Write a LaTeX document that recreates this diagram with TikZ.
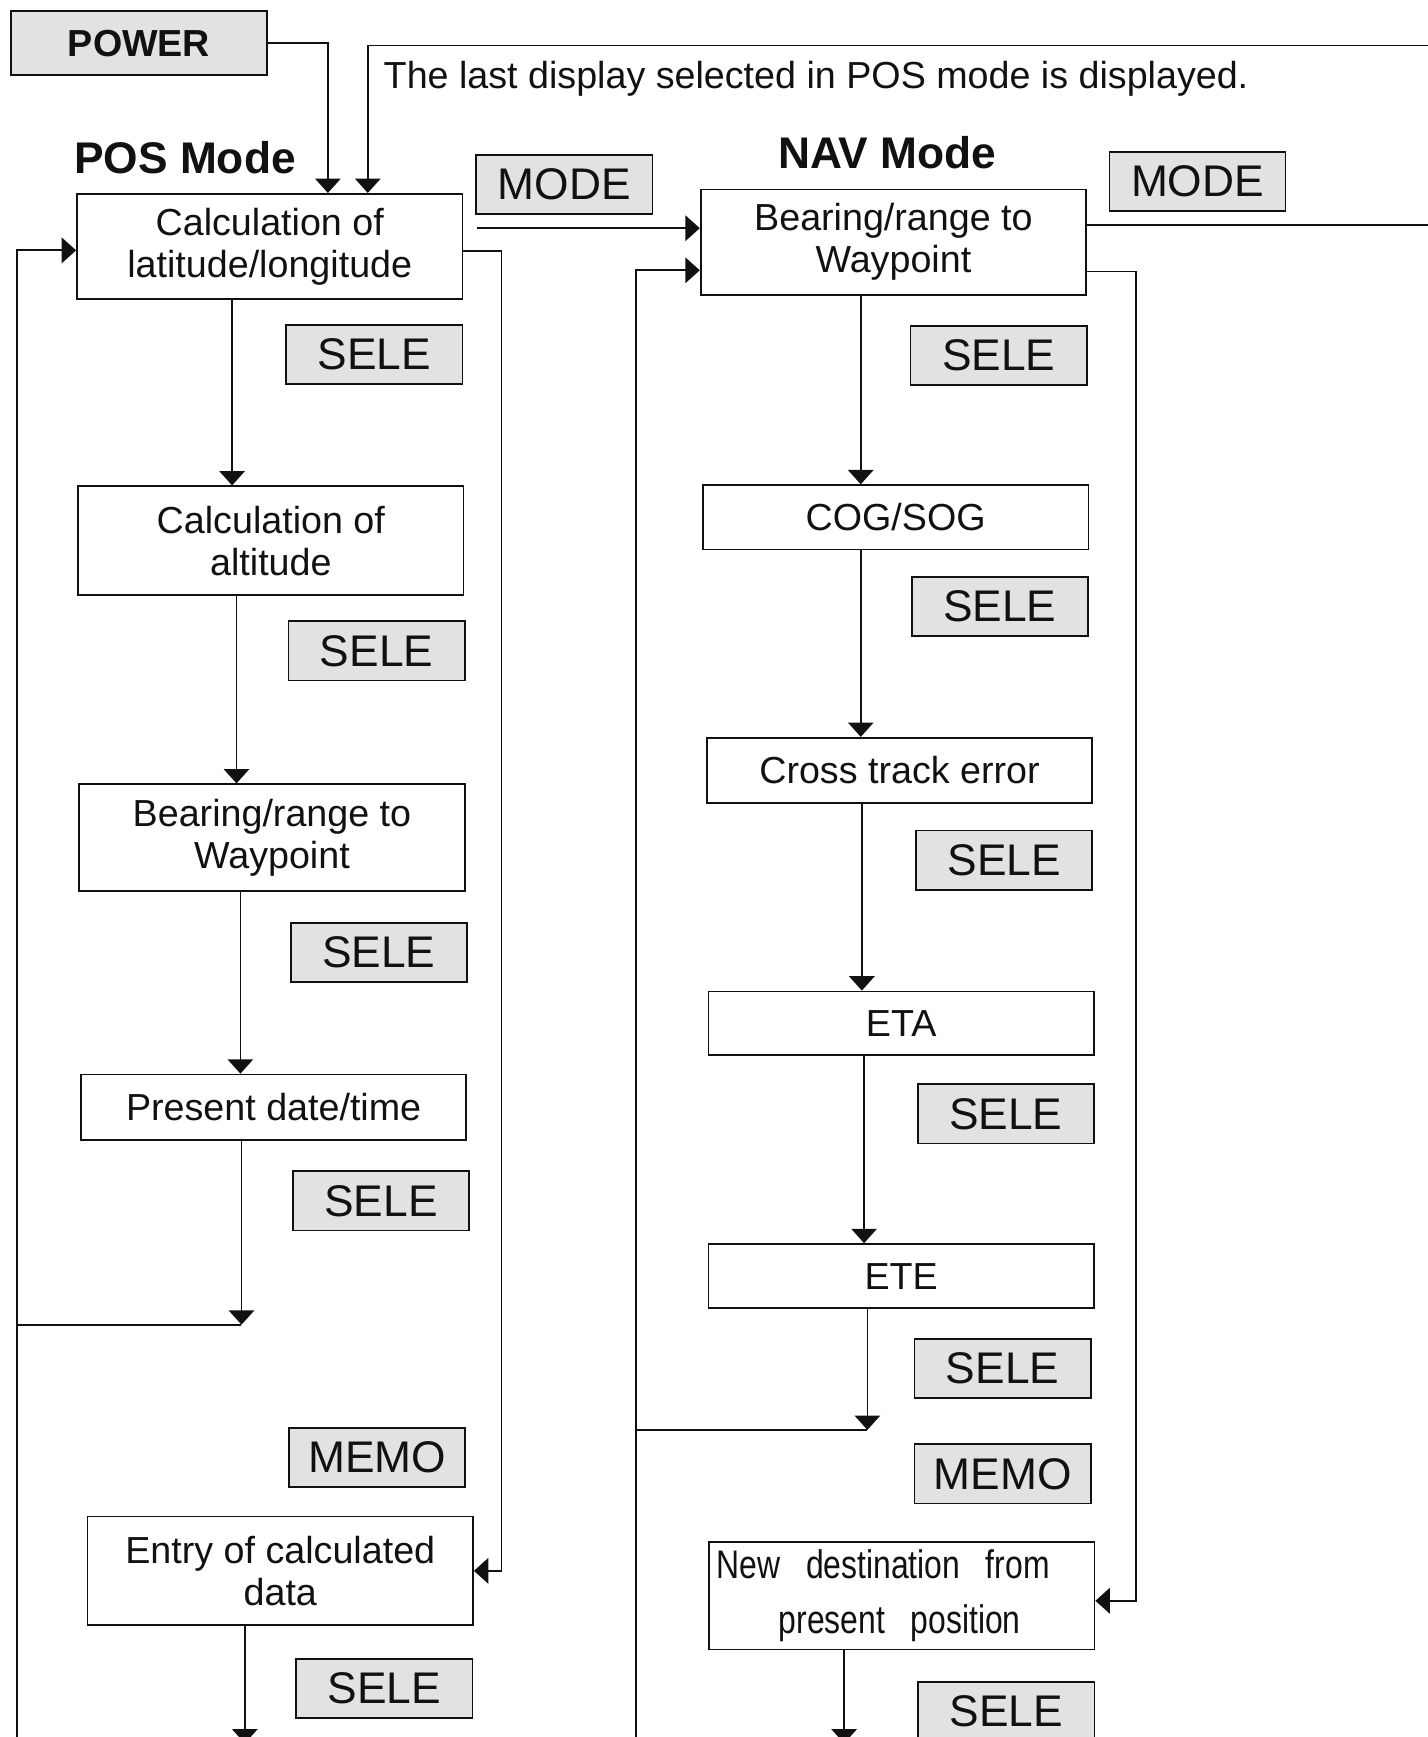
\documentclass[tikz,border=0pt]{standalone}
\usepackage{fontspec}
\setmainfont{Liberation Sans}
\usepackage{xcolor}
\usepackage{tikz}
\usetikzlibrary{arrows.meta}
\definecolor{keygray}{HTML}{E2E2E2}
\definecolor{inkblack}{HTML}{111111}

\begin{document}
\begin{tikzpicture}[
  x=0.5pt,y=-0.5pt,
  every node/.style={inner sep=0pt,text=inkblack},
  base/.style={draw=inkblack,line width=0.8pt,align=center,font=\fontsize{17}{19}\selectfont},
  dispbox/.style={base,minimum width=174pt},
  keybox/.style={base,fill=keygray,minimum width=79.5pt,minimum height=26.75pt,font=\fontsize{20}{22}\selectfont},
  title/.style={font=\bfseries\fontsize{20}{22}\selectfont},
  arr/.style={-{Triangle[width=11.5pt,length=6.5pt]},line width=0.8pt,draw=inkblack},
  wire/.style={line width=0.8pt,draw=inkblack}
]
\useasboundingbox (0,0) rectangle (1289,1568);
\clip (0,0) rectangle (1289,1568);

\node[keybox,minimum width=115.5pt,minimum height=29pt,font=\bfseries\fontsize{17}{19}\selectfont] (power) at (125.5,39) {POWER};
\node[anchor=west,font=\fontsize{17}{19}\selectfont] (note) at (346,71) {The last display selected in POS mode is displayed.};
\node[title] (posmode) at (167,142) {POS Mode};
\node[title] (navmode) at (801,138) {NAV Mode};

% POS mode displays
\node[dispbox,minimum height=47.5pt] (calclat) at (243.5,222.5) {Calculation of\\latitude/longitude};
\node[dispbox,minimum height=49pt] (calcalt) at (244.5,488) {Calculation of\\altitude};
\node[dispbox,minimum height=48pt] (posbear) at (245.5,756) {Bearing/range to\\Waypoint};
\node[dispbox,minimum height=29.5pt] (datetime) at (247,999.5) {Present date/time};
\node[dispbox,minimum height=49pt] (entry) at (253,1418) {Entry of calculated\\data};

% NAV mode displays
\node[dispbox,minimum height=47.5pt] (navbear) at (806.5,218.5) {Bearing/range to\\Waypoint};
\node[dispbox,minimum height=29pt] (cogsog) at (808.5,467) {COG/SOG};
\node[dispbox,minimum height=29.5pt] (xte) at (812,695.5) {Cross track error};
\node[dispbox,minimum height=28.5pt] (eta) at (813.5,923.5) {ETA};
\node[dispbox,minimum height=29pt] (ete) at (813.5,1152) {ETE};
\node[dispbox,minimum height=48.5pt,align=left,text width=167pt,inner xsep=3pt,font=\fontsize{18}{25}\selectfont] (newdest) at (814,1440.5)
  {\scalebox{0.8}[1]{New\hspace{0.8em}destination\hspace{0.8em}from}\\\hspace*{28pt}\scalebox{0.8}[1]{present\hspace{0.8em}position}};

% keys
\node[keybox] (modepos) at (509.5,166.5) {MODE};
\node[keybox] (modenav) at (1081,164) {MODE};
\node[keybox] (selea) at (338,320) {SELE};
\node[keybox] (seleb) at (340,587.5) {SELE};
\node[keybox] (selec) at (342,860) {SELE};
\node[keybox] (seled) at (344,1084) {SELE};
\node[keybox] (memopos) at (340.5,1315.5) {MEMO};
\node[keybox] (selee) at (347,1524) {SELE};
\node[keybox] (selef) at (901.5,321) {SELE};
\node[keybox] (seleg) at (902.5,547.5) {SELE};
\node[keybox] (seleh) at (906.5,776.5) {SELE};
\node[keybox] (selei) at (908,1005.5) {SELE};
\node[keybox] (selej) at (905,1235.5) {SELE};
\node[keybox] (memonav) at (905,1330.5) {MEMO};
\node[keybox] (selek) at (908.5,1545) {SELE};

% power on and return from NAV
\coordinate (navback) at (1289,41);
\draw[arr] (power.east) -| ([xshift=26.25pt]calclat.north);
\draw[arr] (navback) -| ([xshift=44.25pt]calclat.north);
\coordinate (navin) at ([yshift=6.25pt]navbear.west);
\coordinate (posout) at (calclat.east |- navin);
\draw[arr] ([xshift=6pt]posout) -- (navin);

% POS loop
\draw[arr] ([xshift=-17pt]calclat.south) -- ([xshift=-17pt]calclat.south |- calcalt.north);
\draw[arr] ([xshift=-15.5pt]calcalt.south) -- ([xshift=-15.5pt]calcalt.south |- posbear.north);
\draw[arr] ([xshift=-14.25pt]posbear.south) -- ([xshift=-14.25pt]posbear.south |- datetime.north);
\coordinate (posjoin) at ([xshift=-14.5pt,yshift=-83pt]datetime.south);
\draw[arr] ([xshift=-14.5pt]datetime.south) -- (posjoin);
\coordinate (posrail) at (15,1590);
\draw[wire] (posjoin) -- (posjoin -| posrail);
\draw[arr] (posrail) |- ([yshift=-1.75pt]calclat.west);
\draw[arr] ([yshift=-2pt]calclat.east) -| ([xshift=12.5pt]entry.east) -- (entry.east);
\coordinate (posend) at ([xshift=-16pt,yshift=-53pt]entry.south);
\draw[arr] ([xshift=-16pt]entry.south) -- (posend);

% NAV loop
\coordinate (navexit) at (1289,203);
\draw[wire] ([yshift=7.75pt]navbear.east) -- (navexit);
\coordinate (navrail) at (574,1590);
\draw[arr] (navrail) |- ([yshift=-12.75pt]navbear.west);
\draw[arr] ([xshift=-14.75pt]navbear.south) -- ([xshift=-14.75pt]navbear.south |- cogsog.north);
\draw[arr] ([xshift=-15.75pt]cogsog.south) -- ([xshift=-15.75pt]cogsog.south |- xte.north);
\draw[arr] ([xshift=-17pt]xte.south) -- ([xshift=-17pt]xte.south |- eta.north);
\draw[arr] ([xshift=-16.75pt]eta.south) -- ([xshift=-16.75pt]eta.south |- ete.north);
\coordinate (navjoin) at ([xshift=-15.25pt,yshift=-54.5pt]ete.south);
\draw[arr] ([xshift=-15.25pt]ete.south) -- (navjoin);
\draw[wire] (navjoin) -- (navjoin -| navrail);
\draw[arr] ([yshift=-13.25pt]navbear.east) -| ([xshift=18.5pt,yshift=-2.25pt]newdest.east) -- ([yshift=-2.25pt]newdest.east);
\coordinate (navend) at ([xshift=-26pt,yshift=-42pt]newdest.south);
\draw[arr] ([xshift=-26pt]newdest.south) -- (navend);
\end{tikzpicture}
\end{document}
